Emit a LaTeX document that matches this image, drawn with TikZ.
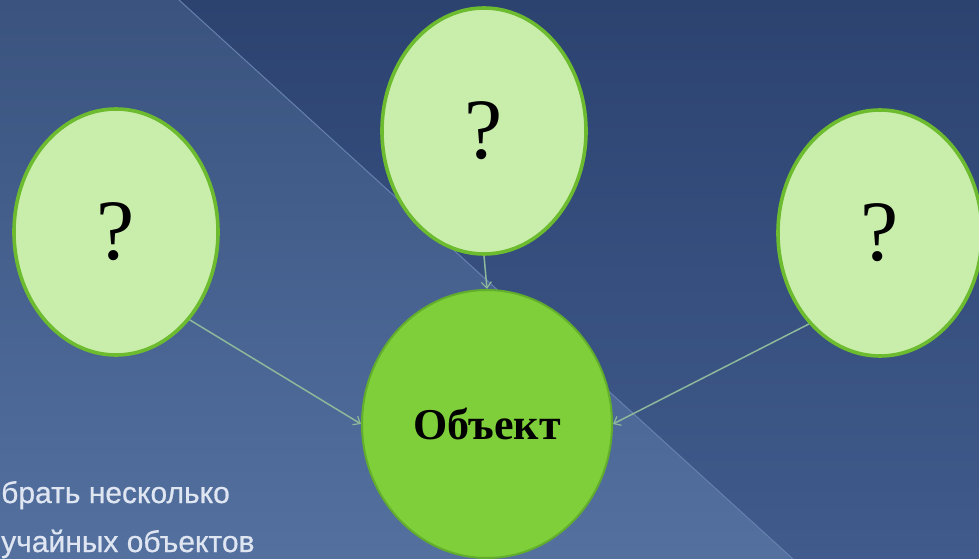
\documentclass[tikz,border=0pt]{standalone}
\usepackage{fontspec}
\setmainfont{Liberation Serif}
\newfontfamily\labelsans[FakeBold=0.6]{Liberation Sans}
\usetikzlibrary{shapes.geometric,arrows.meta}
\definecolor{bgTopR}{HTML}{2C4370}
\definecolor{bgBotR}{HTML}{405B8C}
\definecolor{bgTopL}{HTML}{3A537F}
\definecolor{bgBotL}{HTML}{53709F}
\definecolor{diagc}{HTML}{6580AE}
\definecolor{qfill}{HTML}{C9EEAB}
\definecolor{qedge}{HTML}{6DBB2E}
\definecolor{objfill}{HTML}{7ECF39}
\definecolor{objedge}{HTML}{62AE2C}
\definecolor{conncol}{HTML}{8DB89B}
\definecolor{captioncol}{HTML}{DFE6F2}
\begin{document}
\begin{tikzpicture}[x=1pt,y=-1pt,
  qbubble/.style={ellipse, draw=qedge, line width=3.6pt, fill=qfill,
    minimum width=204pt, minimum height=246pt, inner sep=0pt,
    font=\fontsize{86}{90}\selectfont, text=black},
  objbubble/.style={ellipse, draw=objedge, line width=2pt, fill=objfill,
    minimum width=250pt, minimum height=268pt, inner sep=0pt,
    font=\fontsize{44}{48}\selectfont\bfseries, text=black},
  conn/.style={draw=conncol, line width=1.5pt,
    -{Straight Barb[length=6pt,width=10pt,line width=1.2pt]}},
  caption/.style={font=\labelsans\fontsize{30}{34}\selectfont, text=captioncol,
    anchor=base west, inner sep=0pt}
]
\useasboundingbox (0,0) rectangle (979,559);
% background
\shade[top color=bgTopR, bottom color=bgBotR] (179,0) -- (979,0) -- (979,559) -- (793,559) -- cycle;
\shade[top color=bgTopL, bottom color=bgBotL] (0,0) -- (179,0) -- (793,559) -- (0,559) -- cycle;
\draw[diagc, line width=1pt] (179,0) -- (793,559);

% nodes
\node[qbubble] (L) at (116,232) {?};
\node[qbubble] (T) at (484,131) {?};
\node[qbubble] (R) at (880,233) {?};
\node[objbubble] (C) at (487,424) {Объект};

% connectors
\draw[conn] (L.-50) -- (C.west);
\draw[conn] (T.south) -- (C.north);
\draw[conn] (R.-128) -- (C.east);

% caption
\node[caption] (cap1) at (1,503) {брать несколько};
\node[caption] (cap2) at (1,552) {учайных объектов};
\end{tikzpicture}
\end{document}
